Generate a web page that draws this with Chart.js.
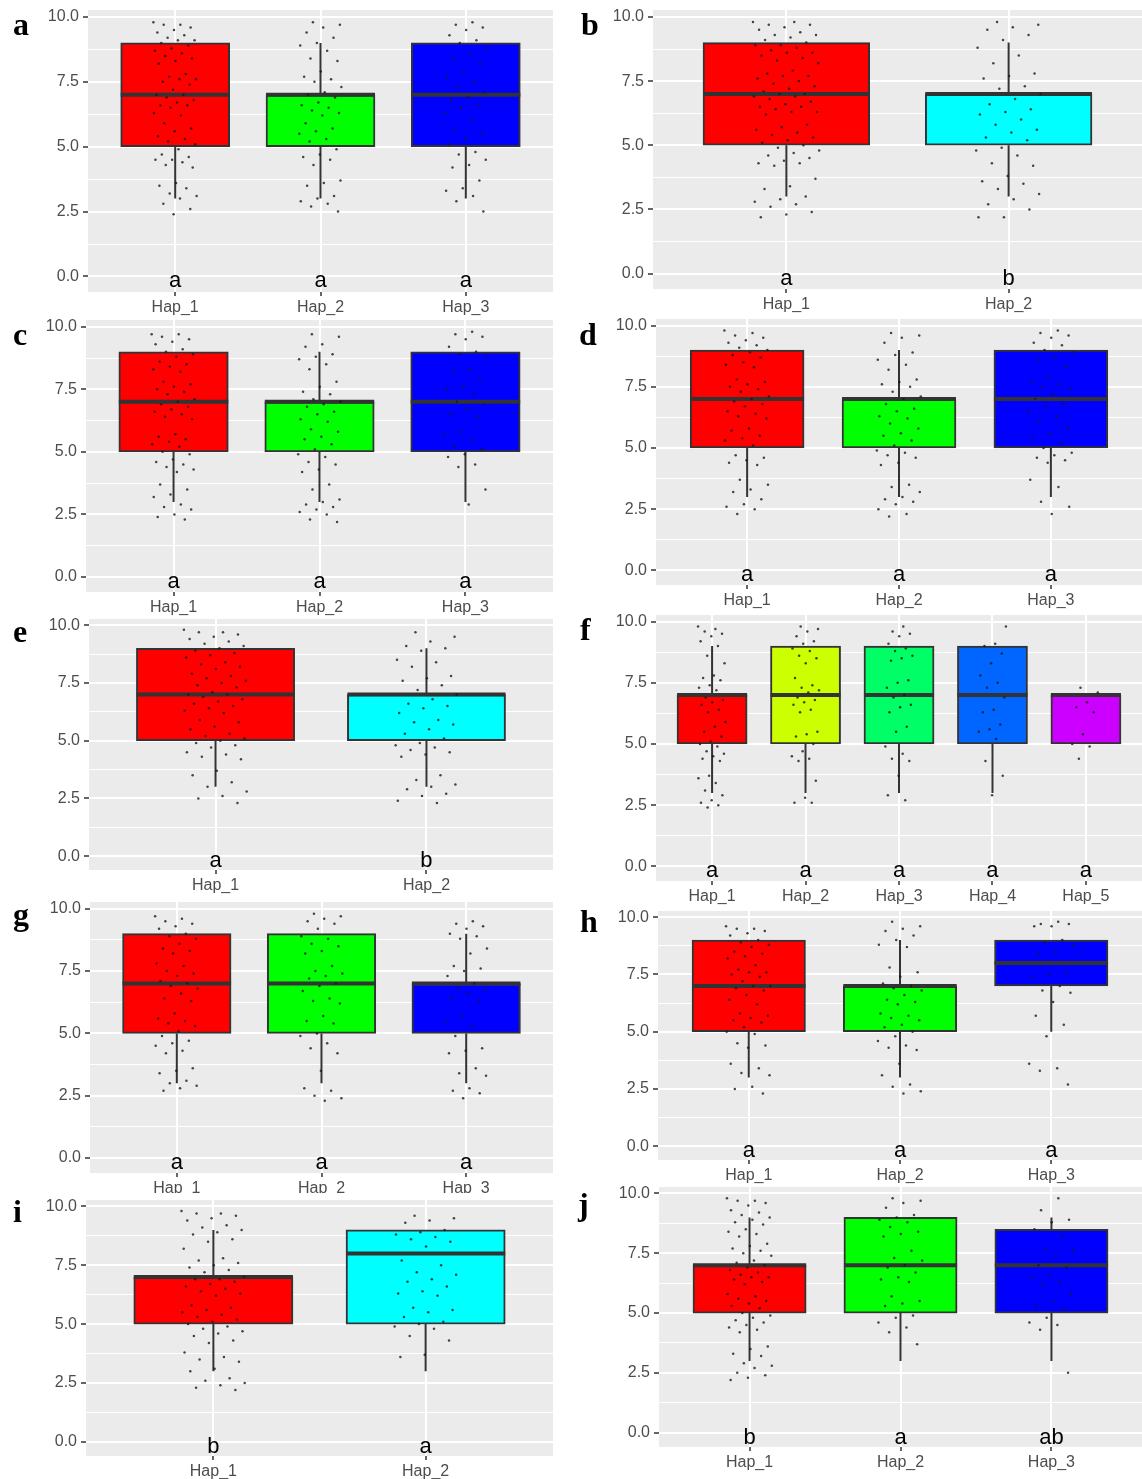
<!DOCTYPE html>
<html>
<head>
<meta charset="utf-8">
<script src="https://cdn.jsdelivr.net/npm/chart.js@4.4.1/dist/chart.umd.min.js"></script>
<style>
  body { margin: 0; background: #fff; }
  #page { position: relative; width: 1142px; height: 1479px; overflow: hidden; background: #fff; }
  .wrap { position: absolute; }
  .tag { position: absolute; font: bold 32px "Liberation Serif", "Times New Roman", serif; line-height: 32px; color: #000; }
  .mask { position: absolute; background: #fff; }
</style>
</head>
<body>
<div id="page"></div>
<script>
// categories
const cats2 = ["Hap_1", "Hap_2"];
const cats3 = ["Hap_1", "Hap_2", "Hap_3"];
const cats5 = ["Hap_1", "Hap_2", "Hap_3", "Hap_4", "Hap_5"];

// y axis ticks (major labelled, minor only grid)
const yMajor = [0, 2.5, 5, 7.5, 10];
const yMinor = [1.25, 3.75, 6.25, 8.75];
const yTickLabels = ["0.0", "2.5", "5.0", "7.5", "10.0"];

// box stats per group: [min, q1, median, q3, max]
const aStats = [[3, 5, 7, 9, 9], [3, 5, 7, 7, 9], [3, 5, 7, 9, 9]];
const bStats = [[3, 5, 7, 9, 9], [3, 5, 7, 7, 9]];
const cStats = [[3, 5, 7, 9, 9], [3, 5, 7, 7, 9], [3, 5, 7, 9, 9]];
const dStats = [[3, 5, 7, 9, 9], [3, 5, 7, 7, 9], [3, 5, 7, 9, 9]];
const eStats = [[3, 5, 7, 9, 9], [3, 5, 7, 7, 9]];
const fStats = [[3, 5, 7, 7, 9], [3, 5, 7, 9, 9], [3, 5, 7, 9, 9], [3, 5, 7, 9, 9], [5, 5, 7, 7, 7]];
const gStats = [[3, 5, 7, 9, 9], [3, 5, 7, 9, 9], [3, 5, 7, 7, 9]];
const hStats = [[3, 5, 7, 9, 9], [3, 5, 7, 7, 9], [5, 7, 8, 9, 9]];
const iStats = [[3, 5, 7, 7, 9], [3, 5, 8, 9, 9]];
const jStats = [[3, 5, 7, 7, 9], [3, 5, 7, 9, 9], [3, 5, 7, 8.5, 9]];

// significance letters
const aSig = ["a", "a", "a"];
const bSig = ["a", "b"];
const cSig = ["a", "a", "a"];
const dSig = ["a", "a", "a"];
const eSig = ["a", "b"];
const fSig = ["a", "a", "a", "a", "a"];
const gSig = ["a", "a", "a"];
const hSig = ["a", "a", "a"];
const iSig = ["b", "a"];
const jSig = ["b", "a", "ab"];

const a1 = [9.8,9.7,9.7,9.6,9.5,9.4,9.3,9.2,9.1,9.1,9.0,8.9,8.8,8.7,8.6,8.5,8.4,8.3,8.2,7.8,7.7,7.6,7.6,7.5,7.4,7.2,7.0,7.0,6.9,6.8,6.7,6.6,6.6,6.5,6.3,6.2,5.9,5.7,5.6,5.4,5.3,5.2,5.1,4.9,4.7,4.6,4.5,4.5,4.4,4.3,4.2,3.6,3.5,3.4,3.2,3.1,3.0,2.8,2.6,2.4];
const a2 = [9.8,9.7,9.6,9.4,9.2,9.0,8.9,8.7,8.4,8.3,7.9,7.7,7.6,7.5,7.3,7.1,7.0,6.9,6.7,6.6,6.5,6.4,6.3,6.2,5.9,5.7,5.6,5.5,5.3,5.2,4.9,4.7,4.6,4.5,4.3,3.7,3.6,3.5,3.1,3.0,2.9,2.8,2.7,2.5];
const a3 = [9.8,9.7,9.6,9.5,9.3,9.1,9.0,8.8,8.6,8.4,8.2,7.9,7.7,7.5,7.3,7.1,6.9,6.8,6.6,6.5,6.3,6.0,5.7,5.5,5.3,5.1,4.8,4.7,4.5,4.3,4.2,3.7,3.4,3.3,3.1,2.9,2.5];
const b1 = [9.8,9.8,9.7,9.7,9.6,9.5,9.4,9.3,9.3,9.2,9.1,9.0,8.9,8.9,8.8,8.7,8.6,8.6,8.5,8.4,8.3,8.2,7.9,7.8,7.7,7.7,7.6,7.5,7.4,7.3,7.2,7.1,7.0,7.0,6.9,6.9,6.8,6.7,6.6,6.5,6.5,6.4,6.3,6.3,6.2,5.8,5.7,5.6,5.5,5.4,5.3,5.2,5.1,5.0,4.9,4.8,4.7,4.6,4.5,4.4,4.3,4.3,4.2,3.7,3.4,3.3,3.0,2.9,2.8,2.7,2.6,2.4,2.3,2.2];
const b2 = [9.8,9.7,9.6,9.5,9.3,9.1,8.8,8.5,8.2,7.8,7.7,7.6,7.3,7.2,7.0,6.8,6.6,6.4,6.3,6.2,6.0,5.8,5.6,5.5,5.3,5.2,4.9,4.8,4.6,4.3,4.2,3.8,3.6,3.5,3.3,3.1,2.9,2.7,2.5,2.2,2.2];
const c1 = [9.7,9.7,9.6,9.5,9.4,9.3,9.1,9.0,8.9,8.8,8.6,8.5,8.4,8.3,8.2,7.8,7.7,7.6,7.5,7.4,7.3,7.1,7.0,6.9,6.8,6.7,6.6,6.5,6.4,6.3,5.7,5.6,5.5,5.4,5.3,5.2,5.0,4.9,4.7,4.6,4.5,4.4,4.3,4.2,3.7,3.5,3.3,3.2,2.9,2.8,2.7,2.5,2.4,2.3];
const c2 = [9.7,9.6,9.3,9.2,8.9,8.8,8.7,8.5,8.3,7.8,7.6,7.4,7.3,7.1,7.0,6.9,6.8,6.6,6.5,6.3,6.2,5.9,5.8,5.6,5.5,5.3,5.1,4.9,4.8,4.6,4.5,4.3,4.2,3.7,3.5,3.1,3.0,2.9,2.8,2.7,2.6,2.5,2.3,2.2];
const c3 = [9.8,9.7,9.6,9.5,9.2,9.0,8.9,8.8,8.3,8.2,7.9,7.6,7.5,7.3,7.0,6.9,6.7,6.5,6.4,5.8,5.7,5.5,5.2,5.1,4.9,4.8,4.5,4.4,3.5,2.9];
const d1 = [9.8,9.7,9.6,9.5,9.4,9.3,9.2,9.1,9.0,8.9,8.8,8.7,8.5,8.4,8.3,7.8,7.7,7.6,7.5,7.4,7.3,7.1,7.0,6.9,6.8,6.7,6.5,6.4,6.3,6.2,5.8,5.7,5.5,5.4,5.3,5.1,4.7,4.6,4.5,4.4,4.3,3.7,3.5,3.3,3.2,2.9,2.7,2.6,2.5,2.3];
const d2 = [9.7,9.6,9.5,9.3,8.9,8.8,8.6,8.4,8.2,7.8,7.7,7.6,7.5,7.3,7.1,7.0,6.8,6.6,6.5,6.3,6.2,6.0,5.8,5.6,5.5,5.3,5.1,4.9,4.8,4.7,4.6,4.4,4.3,3.5,3.4,3.2,3.0,2.9,2.8,2.7,2.5,2.3,2.2];
const d3 = [9.8,9.7,9.6,9.5,9.3,9.2,9.0,8.9,8.7,8.6,8.3,7.9,7.7,7.6,7.5,7.4,7.2,7.0,6.8,6.7,6.5,6.3,6.1,5.8,5.6,5.4,5.2,5.0,4.8,4.7,4.6,4.5,4.4,3.7,3.4,2.8,2.6,2.3];
const e1 = [9.8,9.7,9.7,9.6,9.5,9.4,9.3,9.2,9.1,9.0,8.9,8.8,8.7,8.6,8.4,8.3,8.2,8.1,7.9,7.8,7.7,7.6,7.5,7.4,7.3,7.1,7.0,7.0,6.9,6.8,6.7,6.6,6.5,6.4,6.3,6.2,5.9,5.8,5.6,5.5,5.3,5.2,5.1,5.0,4.9,4.8,4.7,4.5,4.4,4.3,4.2,3.7,3.5,3.2,3.0,2.8,2.6,2.5,2.3];
const e2 = [9.7,9.5,9.3,9.1,9.0,8.9,8.5,8.4,8.2,7.8,7.7,7.6,7.4,7.2,7.0,6.8,6.6,6.5,6.4,6.2,5.9,5.8,5.7,5.5,5.3,5.1,4.9,4.8,4.7,4.6,4.5,4.4,4.3,3.5,3.3,3.1,3.0,2.9,2.7,2.6,2.4,2.3];
const f1 = [9.8,9.7,9.6,9.5,9.4,9.2,9.0,8.6,8.3,7.8,7.7,7.6,7.4,7.3,7.2,6.9,6.8,6.7,6.6,6.4,6.3,5.9,5.7,5.5,5.3,5.1,5.0,4.9,4.7,4.6,4.5,4.4,4.3,3.7,3.6,3.4,3.1,2.9,2.7,2.6,2.5,2.4];
const f2 = [9.8,9.7,9.6,9.4,9.2,9.1,8.9,8.8,8.6,8.5,8.3,7.7,7.4,7.3,7.2,7.1,6.9,6.8,6.7,6.6,6.4,6.3,5.5,5.4,5.3,5.0,4.7,4.5,4.4,4.3,3.5,2.8,2.6,2.6];
const f3 = [9.8,9.6,9.5,9.4,9.1,8.9,8.8,8.6,8.5,8.4,7.6,7.5,7.3,7.0,6.9,6.6,6.5,6.3,5.7,5.5,4.9,4.6,4.4,4.3,3.7,2.9,2.7];
const f4 = [9.8,9.1,9.0,8.7,8.3,7.8,7.5,7.3,6.9,6.4,6.3,5.8,5.6,5.5,5.2,4.3,3.7,2.9];
const f5 = [7.3,7.1,6.7,6.5,6.3,5.4,5.0,4.9,4.4];
const g1 = [9.7,9.6,9.5,9.4,9.3,9.2,9.0,8.9,8.8,8.6,8.4,8.3,8.2,7.8,7.7,7.5,7.4,7.3,7.1,7.0,6.9,6.8,6.6,6.4,6.3,5.8,5.6,5.5,5.4,5.3,5.1,4.9,4.7,4.6,4.5,4.3,4.2,3.6,3.5,3.4,3.1,3.0,2.9,2.8,2.7];
const g2 = [9.8,9.7,9.6,9.5,9.4,9.2,8.9,8.8,8.6,8.5,8.3,8.2,7.7,7.5,7.4,7.3,7.2,7.0,6.9,6.7,6.4,6.3,6.2,5.7,5.5,5.4,5.0,4.9,4.6,4.4,4.2,3.5,2.8,2.7,2.5,2.4,2.3];
const g3 = [9.5,9.4,9.3,9.2,9.0,8.9,8.8,8.4,8.2,7.7,7.6,7.5,7.3,7.0,6.8,6.7,6.6,6.4,6.3,5.7,5.5,5.3,4.9,4.4,4.3,4.2,3.6,3.4,3.3,2.8,2.7,2.6,2.4];
const h1 = [9.6,9.5,9.5,9.4,9.3,9.2,9.0,8.9,8.8,8.7,8.5,8.4,8.3,8.2,7.9,7.7,7.6,7.6,7.5,7.4,7.2,7.0,7.0,6.9,6.8,6.6,6.4,6.2,5.8,5.7,5.6,5.5,5.4,5.2,5.0,4.9,4.5,4.4,4.3,3.6,3.4,3.2,3.1,2.6,2.5,2.3];
const h2 = [9.8,9.6,9.5,9.4,9.2,9.0,8.8,8.7,7.8,7.6,7.4,7.1,7.0,6.9,6.8,6.6,6.4,6.3,6.2,5.8,5.7,5.6,5.5,5.3,5.2,5.0,4.8,4.6,4.4,4.3,4.2,3.6,3.1,2.7,2.6,2.4,2.3];
const h3 = [9.8,9.7,9.7,9.6,9.6,9.0,8.9,8.8,8.5,8.4,7.6,7.5,7.4,7.0,6.8,6.7,6.3,5.7,5.3,4.8,3.6,3.4,3.3,2.7];
const i1 = [9.8,9.7,9.7,9.6,9.5,9.4,9.2,9.1,9.0,8.9,8.8,8.6,8.5,8.2,7.8,7.7,7.6,7.5,7.4,7.3,7.2,7.0,6.9,6.9,6.8,6.7,6.6,6.5,6.4,6.3,6.2,5.8,5.7,5.6,5.5,5.4,5.3,5.2,5.1,5.0,4.9,4.8,4.7,4.6,4.5,4.3,4.2,3.8,3.6,3.5,3.4,3.1,3.0,2.7,2.6,2.5,2.4,2.3,2.2];
const i2 = [9.6,9.5,9.4,9.3,9.0,8.9,8.8,8.7,8.6,8.5,8.3,7.7,7.5,7.2,7.1,6.9,6.8,6.6,6.4,6.3,6.2,5.7,5.6,5.5,5.3,5.1,5.0,4.9,4.8,4.5,4.3,3.7,3.6];
const j1 = [9.8,9.7,9.7,9.6,9.5,9.3,9.2,9.1,9.0,8.9,8.8,8.7,8.5,8.4,8.3,8.2,7.9,7.8,7.7,7.6,7.5,7.4,7.2,7.1,7.0,6.9,6.8,6.7,6.6,6.5,6.5,6.4,6.3,6.2,5.8,5.7,5.6,5.5,5.4,5.3,5.2,5.0,4.9,4.8,4.7,4.6,4.5,4.4,4.3,4.2,3.6,3.5,3.3,3.2,2.9,2.8,2.7,2.5,2.4,2.3,2.2];
const j2 = [9.8,9.7,9.6,9.4,9.1,9.0,8.9,8.8,8.6,8.4,8.3,8.2,7.6,7.3,7.2,7.0,6.9,6.7,6.5,6.4,6.3,5.7,5.5,5.4,5.3,4.9,4.8,4.6,4.4,4.2,3.7];
const j3 = [9.8,9.3,8.9,8.8,8.5,8.2,7.7,7.6,7.4,7.0,6.9,6.6,6.5,6.3,6.2,5.8,5.5,5.3,5.2,4.8,4.6,4.5,4.3,2.5];

// fill colours
const rgb3 = ["#FF0000", "#00FF00", "#0000FF"];
const redCyan = ["#FF0000", "#00FFFF"];
const rainbow5 = ["#FF0000", "#CCFF00", "#00FF66", "#0066FF", "#CC00FF"];

// layout: grey panel box [left, top, right, bottom] and tag baseline position
const panels = [
  { tag: "a", cats: cats3, stats: aStats, pts: [a1, a2, a3], sig: aSig, fill: rgb3, box: [88, 10, 553, 292], tagAt: [13, 35] },
  { tag: "b", cats: cats2, stats: bStats, pts: [b1, b2], sig: bSig, fill: redCyan, box: [653, 10, 1142, 289], tagAt: [581, 35] },
  { tag: "c", cats: cats3, stats: cStats, pts: [c1, c2, c3], sig: cSig, fill: rgb3, box: [86, 320, 553, 592], tagAt: [13, 345] },
  { tag: "d", cats: cats3, stats: dStats, pts: [d1, d2, d3], sig: dSig, fill: rgb3, box: [656, 319, 1142, 585], tagAt: [579, 345] },
  { tag: "e", cats: cats2, stats: eStats, pts: [e1, e2], sig: eSig, fill: redCyan, box: [89, 619, 553, 870], tagAt: [13, 642] },
  { tag: "f", cats: cats5, stats: fStats, pts: [f1, f2, f3, f4, f5], sig: fSig, fill: rainbow5, box: [656, 615, 1142, 881], tagAt: [580, 640] },
  { tag: "g", cats: cats3, stats: gStats, pts: [g1, g2, g3], sig: gSig, fill: rgb3, box: [90, 902, 553, 1173], tagAt: [13, 925] },
  { tag: "h", cats: cats3, stats: hStats, pts: [h1, h2, h3], sig: hSig, fill: rgb3, box: [658, 911, 1142, 1160], tagAt: [580, 932] },
  { tag: "i", cats: cats2, stats: iStats, pts: [i1, i2], sig: iSig, fill: redCyan, box: [86, 1200, 553, 1456], tagAt: [13, 1222], mask: [0, 1193, 570, 7] },
  { tag: "j", cats: cats3, stats: jStats, pts: [j1, j2, j3], sig: jSig, fill: rgb3, box: [659, 1187, 1142, 1447], tagAt: [578, 1215] }
];

const Y_W = 60;    // room for y tick labels
const PAD_T = 20;  // room above the grey panel
const X_H = 30;    // room for x tick labels
const FONT = "'Liberation Sans', Arial, sans-serif";

// grey panel background
const panelBg = {
  id: "panelBg",
  beforeDraw(chart) {
    const a = chart.chartArea;
    chart.ctx.save();
    chart.ctx.fillStyle = "#EBEBEB";
    chart.ctx.fillRect(a.left, a.top, a.right - a.left, a.bottom - a.top);
    chart.ctx.restore();
  }
};

// letters of significance, written at y = 0
const sigText = {
  id: "sigText",
  afterDatasetsDraw(chart, args, opts) {
    const ctx = chart.ctx;
    const xs = chart.scales.x, ys = chart.scales.y;
    ctx.save();
    ctx.fillStyle = "#000";
    ctx.font = "22px " + FONT;
    ctx.textAlign = "center";
    ctx.textBaseline = "alphabetic";
    opts.letters.forEach((t, i) => {
      ctx.fillText(t, xs.getPixelForValue(i + 1), ys.getPixelForValue(0) + 11);
    });
    ctx.restore();
  }
};

const page = document.getElementById("page");

function jitter(k) {
  // spread dots sideways within the box, like geom_jitter
  return (((k * 0.6180339887) % 1) - 0.5) * 0.3;
}

panels.forEach(p => {
  const [L, T, R, B] = p.box;
  const n = p.cats.length;
  const unit = (R - L) / (n + 0.2);

  if (p.mask) {
    const m = document.createElement("div");
    m.className = "mask";
    m.style.left = p.mask[0] + "px";
    m.style.top = p.mask[1] + "px";
    m.style.width = p.mask[2] + "px";
    m.style.height = p.mask[3] + "px";
    page.appendChild(m);
  }

  const wrap = document.createElement("div");
  wrap.className = "wrap";
  wrap.style.left = (L - Y_W) + "px";
  wrap.style.top = (T - PAD_T) + "px";
  wrap.style.width = (R - L + Y_W) + "px";
  wrap.style.height = (B - T + PAD_T + X_H) + "px";
  const canvas = document.createElement("canvas");
  wrap.appendChild(canvas);
  page.appendChild(wrap);

  const tag = document.createElement("div");
  tag.className = "tag";
  tag.textContent = p.tag;
  tag.style.left = p.tagAt[0] + "px";
  tag.style.top = (p.tagAt[1] - 27) + "px";
  page.appendChild(tag);

  const whiskers = [];
  const medians = [];
  p.stats.forEach((s, i) => {
    const c = i + 1;
    whiskers.push({ x: c, y: s[0] }, { x: c, y: s[1] }, { x: c, y: null });
    whiskers.push({ x: c, y: s[3] }, { x: c, y: s[4] }, { x: c, y: null });
    medians.push({ x: c - 0.375, y: s[2] }, { x: c + 0.375, y: s[2] }, { x: c, y: null });
  });

  const dots = [];
  p.pts.forEach((vals, i) => {
    vals.forEach((v, k) => dots.push({ x: i + 1 + jitter(k + i * 7), y: v }));
  });

  new Chart(canvas.getContext("2d"), {
    type: "bar",
    data: {
      datasets: [
        {
          type: "scatter",
          data: dots,
          pointRadius: 1.25,
          pointBackgroundColor: "rgba(25,25,25,0.8)",
          pointBorderWidth: 0,
          order: 0
        },
        {
          type: "line",
          data: medians,
          borderColor: "#333333",
          borderWidth: 4,
          pointRadius: 0,
          spanGaps: false,
          order: 1
        },
        {
          type: "line",
          data: whiskers,
          borderColor: "#333333",
          borderWidth: 2,
          pointRadius: 0,
          spanGaps: false,
          order: 2
        },
        {
          type: "bar",
          data: p.stats.map((s, i) => ({ x: i + 1, y: [s[1], s[3]] })),
          backgroundColor: p.fill,
          borderColor: "#333333",
          borderWidth: 2,
          borderSkipped: false,
          barThickness: unit * 0.75,
          grouped: false,
          order: 3
        }
      ]
    },
    options: {
      responsive: true,
      maintainAspectRatio: false,
      animation: false,
      events: [],
      layout: { autoPadding: false, padding: { top: PAD_T, left: 0, right: 0, bottom: 0 } },
      plugins: {
        legend: { display: false },
        tooltip: { enabled: false },
        sigText: { letters: p.sig }
      },
      scales: {
        x: {
          type: "linear",
          min: 0.4,
          max: n + 0.6,
          offset: false,
          afterBuildTicks: s => { s.ticks = p.cats.map((c, i) => ({ value: i + 1 })); },
          afterFit: s => { s.height = X_H; s.paddingLeft = 0; s.paddingRight = 0; },
          border: { display: false },
          grid: { offset: false, color: "#FFFFFF", lineWidth: 2, tickColor: "#333333", tickLength: 4, tickWidth: 1.5 },
          ticks: {
            autoSkip: false,
            maxRotation: 0,
            padding: 2,
            color: "#4D4D4D",
            font: { family: FONT, size: 16 },
            callback: (v, idx) => p.cats[idx]
          }
        },
        y: {
          type: "linear",
          min: -0.6,
          max: 10.27,
          afterBuildTicks: s => {
            s.ticks = yMajor.concat(yMinor).sort((a, b) => a - b).map(v => ({ value: v }));
          },
          afterFit: s => { s.width = Y_W; },
          border: { display: false },
          grid: {
            color: "#FFFFFF",
            lineWidth: c => (yMajor.includes(c.tick.value) ? 2 : 1),
            tickColor: c => (yMajor.includes(c.tick.value) ? "#333333" : "rgba(0,0,0,0)"),
            tickLength: 5,
            tickWidth: 1.5
          },
          ticks: {
            autoSkip: false,
            padding: 4,
            color: "#4D4D4D",
            font: { family: FONT, size: 16 },
            callback: v => {
              const k = yMajor.indexOf(v);
              return k >= 0 ? yTickLabels[k] : "";
            }
          }
        }
      }
    },
    plugins: [panelBg, sigText]
  });
});
</script>
</body>
</html>
